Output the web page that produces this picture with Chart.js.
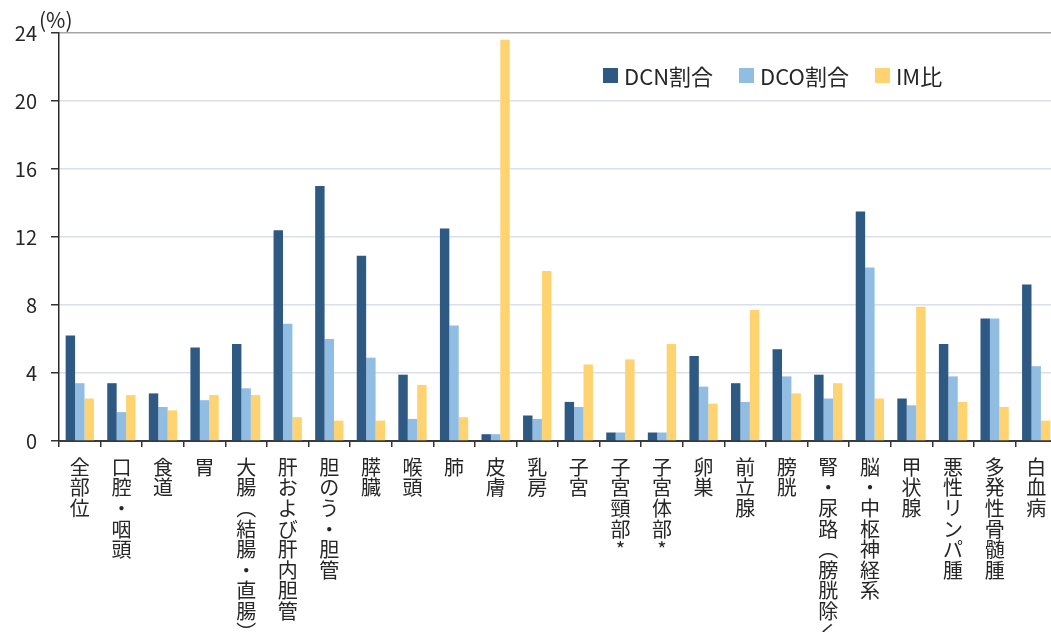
<!DOCTYPE html>
<html lang="ja">
<head>
<meta charset="utf-8">
<title>DCN・DCO割合とIM比</title>
<script src="https://cdn.jsdelivr.net/npm/chart.js@4.4.1/dist/chart.umd.min.js"></script>
<style>
  html, body { margin: 0; padding: 0; background: #fff; overflow: hidden; }
  body { width: 1051px; height: 632px; position: relative; font-family: "Noto Sans CJK JP", "Noto Sans", sans-serif; color: #262626; }
  #chart { position: absolute; left: 0; top: 0; }
  .unit { position: absolute; left: 39px; top: 9px; font-size: 21px; line-height: 1; }
  .legend { position: absolute; left: 603px; top: 59px; display: flex; align-items: center; font-size: 22px; white-space: nowrap; }
  .legend .item { display: flex; align-items: center; margin-right: 26px; }
  .legend .box { width: 15px; height: 15px; margin-right: 6px; }
</style>
</head>
<body>
<canvas id="chart" width="1057" height="632"></canvas>
<div class="unit">(%)</div>
<div class="legend" id="legend"></div>
<script>
// categories written top-to-bottom, vertical-form brackets
const categories = [
  '全部位','口腔・咽頭','食道','胃','大腸︵結腸・直腸︶','肝および肝内胆管','胆のう・胆管','膵臓',
  '喉頭','肺','皮膚','乳房','子宮','子宮頸部*','子宮体部*','卵巣','前立腺','膀胱',
  '腎・尿路︵膀胱除く︶','脳・中枢神経系','甲状腺','悪性リンパ腫','多発性骨髄腫','白血病'
];
const seriesNames = ['DCN割合','DCO割合','IM比'];
const dcnValues = [6.2,3.4,2.8,5.5,5.7,12.4,15.0,10.9,3.9,12.5,0.4,1.5,2.3,0.5,0.5,5.0,3.4,5.4,3.9,13.5,2.5,5.7,7.2,9.2];
const dcoValues = [3.4,1.7,2.0,2.4,3.1,6.9,6.0,4.9,1.3,6.8,0.4,1.3,2.0,0.5,0.5,3.2,2.3,3.8,2.5,10.2,2.1,3.8,7.2,4.4];
const imValues  = [2.5,2.7,1.8,2.7,2.7,1.4,1.2,1.2,3.3,1.4,23.6,10.0,4.5,4.8,5.7,2.2,7.7,2.8,3.4,2.5,7.9,2.3,2.0,1.2];
const yTicks = [0,4,8,12,16,20,24];

const colors = ['#2e5983','#92bde3','#ffd36f'];
const fontFamily = '"Noto Sans CJK JP", "Noto Sans", sans-serif';

function buildLegend(){
  const legend = document.getElementById('legend');
  seriesNames.forEach((name, i)=>{
    const item = document.createElement('div'); item.className = 'item';
    const box = document.createElement('div'); box.className = 'box'; box.style.background = colors[i];
    const label = document.createElement('span'); label.textContent = name;
    item.appendChild(box); item.appendChild(label);
    legend.appendChild(item);
  });
}

function makeDataset(i, values){
  return { label: seriesNames[i], data: values, backgroundColor: colors[i], borderWidth: 0,
    categoryPercentage: 0.68, barPercentage: 1.0 };
}

window.addEventListener('DOMContentLoaded', ()=>{
  buildLegend();
  const ctx = document.getElementById('chart').getContext('2d');
  new Chart(ctx, {
    type: 'bar',
    data: {
      // each label split into characters so it stacks vertically
      labels: categories.map(c => Array.from(c)),
      datasets: [makeDataset(0, dcnValues), makeDataset(1, dcoValues), makeDataset(2, imValues)]
    },
    options: {
      responsive: false,
      animation: false,
      layout: { padding: { top: 33, right: 0, left: 0, bottom: 0 } },
      plugins: { legend: { display: false }, tooltip: { enabled: false } },
      scales: {
        x: {
          grid: { drawOnChartArea: false, drawTicks: true, tickLength: 6, tickColor: '#333', lineWidth: 1.5 },
          border: { color: '#3a3a3a', width: 2 },
          ticks: { autoSkip: false, maxRotation: 0, minRotation: 0, padding: 10, color: '#262626',
            font: { family: fontFamily, size: 20, lineHeight: 1.03 } },
          afterFit: (scale)=>{ scale.height = 191; }
        },
        y: {
          min: 0, max: 24,
          afterBuildTicks: (scale)=>{ scale.ticks = yTicks.map(v => ({ value: v })); },
          grid: {
            color: (c)=> c.tick && c.tick.value === 24 ? '#a6a6a6' : '#d9e0e9',
            lineWidth: 1.5, tickLength: 8, tickColor: '#333'
          },
          border: { color: '#2a2a2a', width: 1.5 },
          ticks: { padding: 14, color: '#262626', font: { family: fontFamily, size: 20 } },
          afterFit: (scale)=>{ scale.width = 59; }
        }
      }
    }
  });
});
</script>
</body>
</html>
